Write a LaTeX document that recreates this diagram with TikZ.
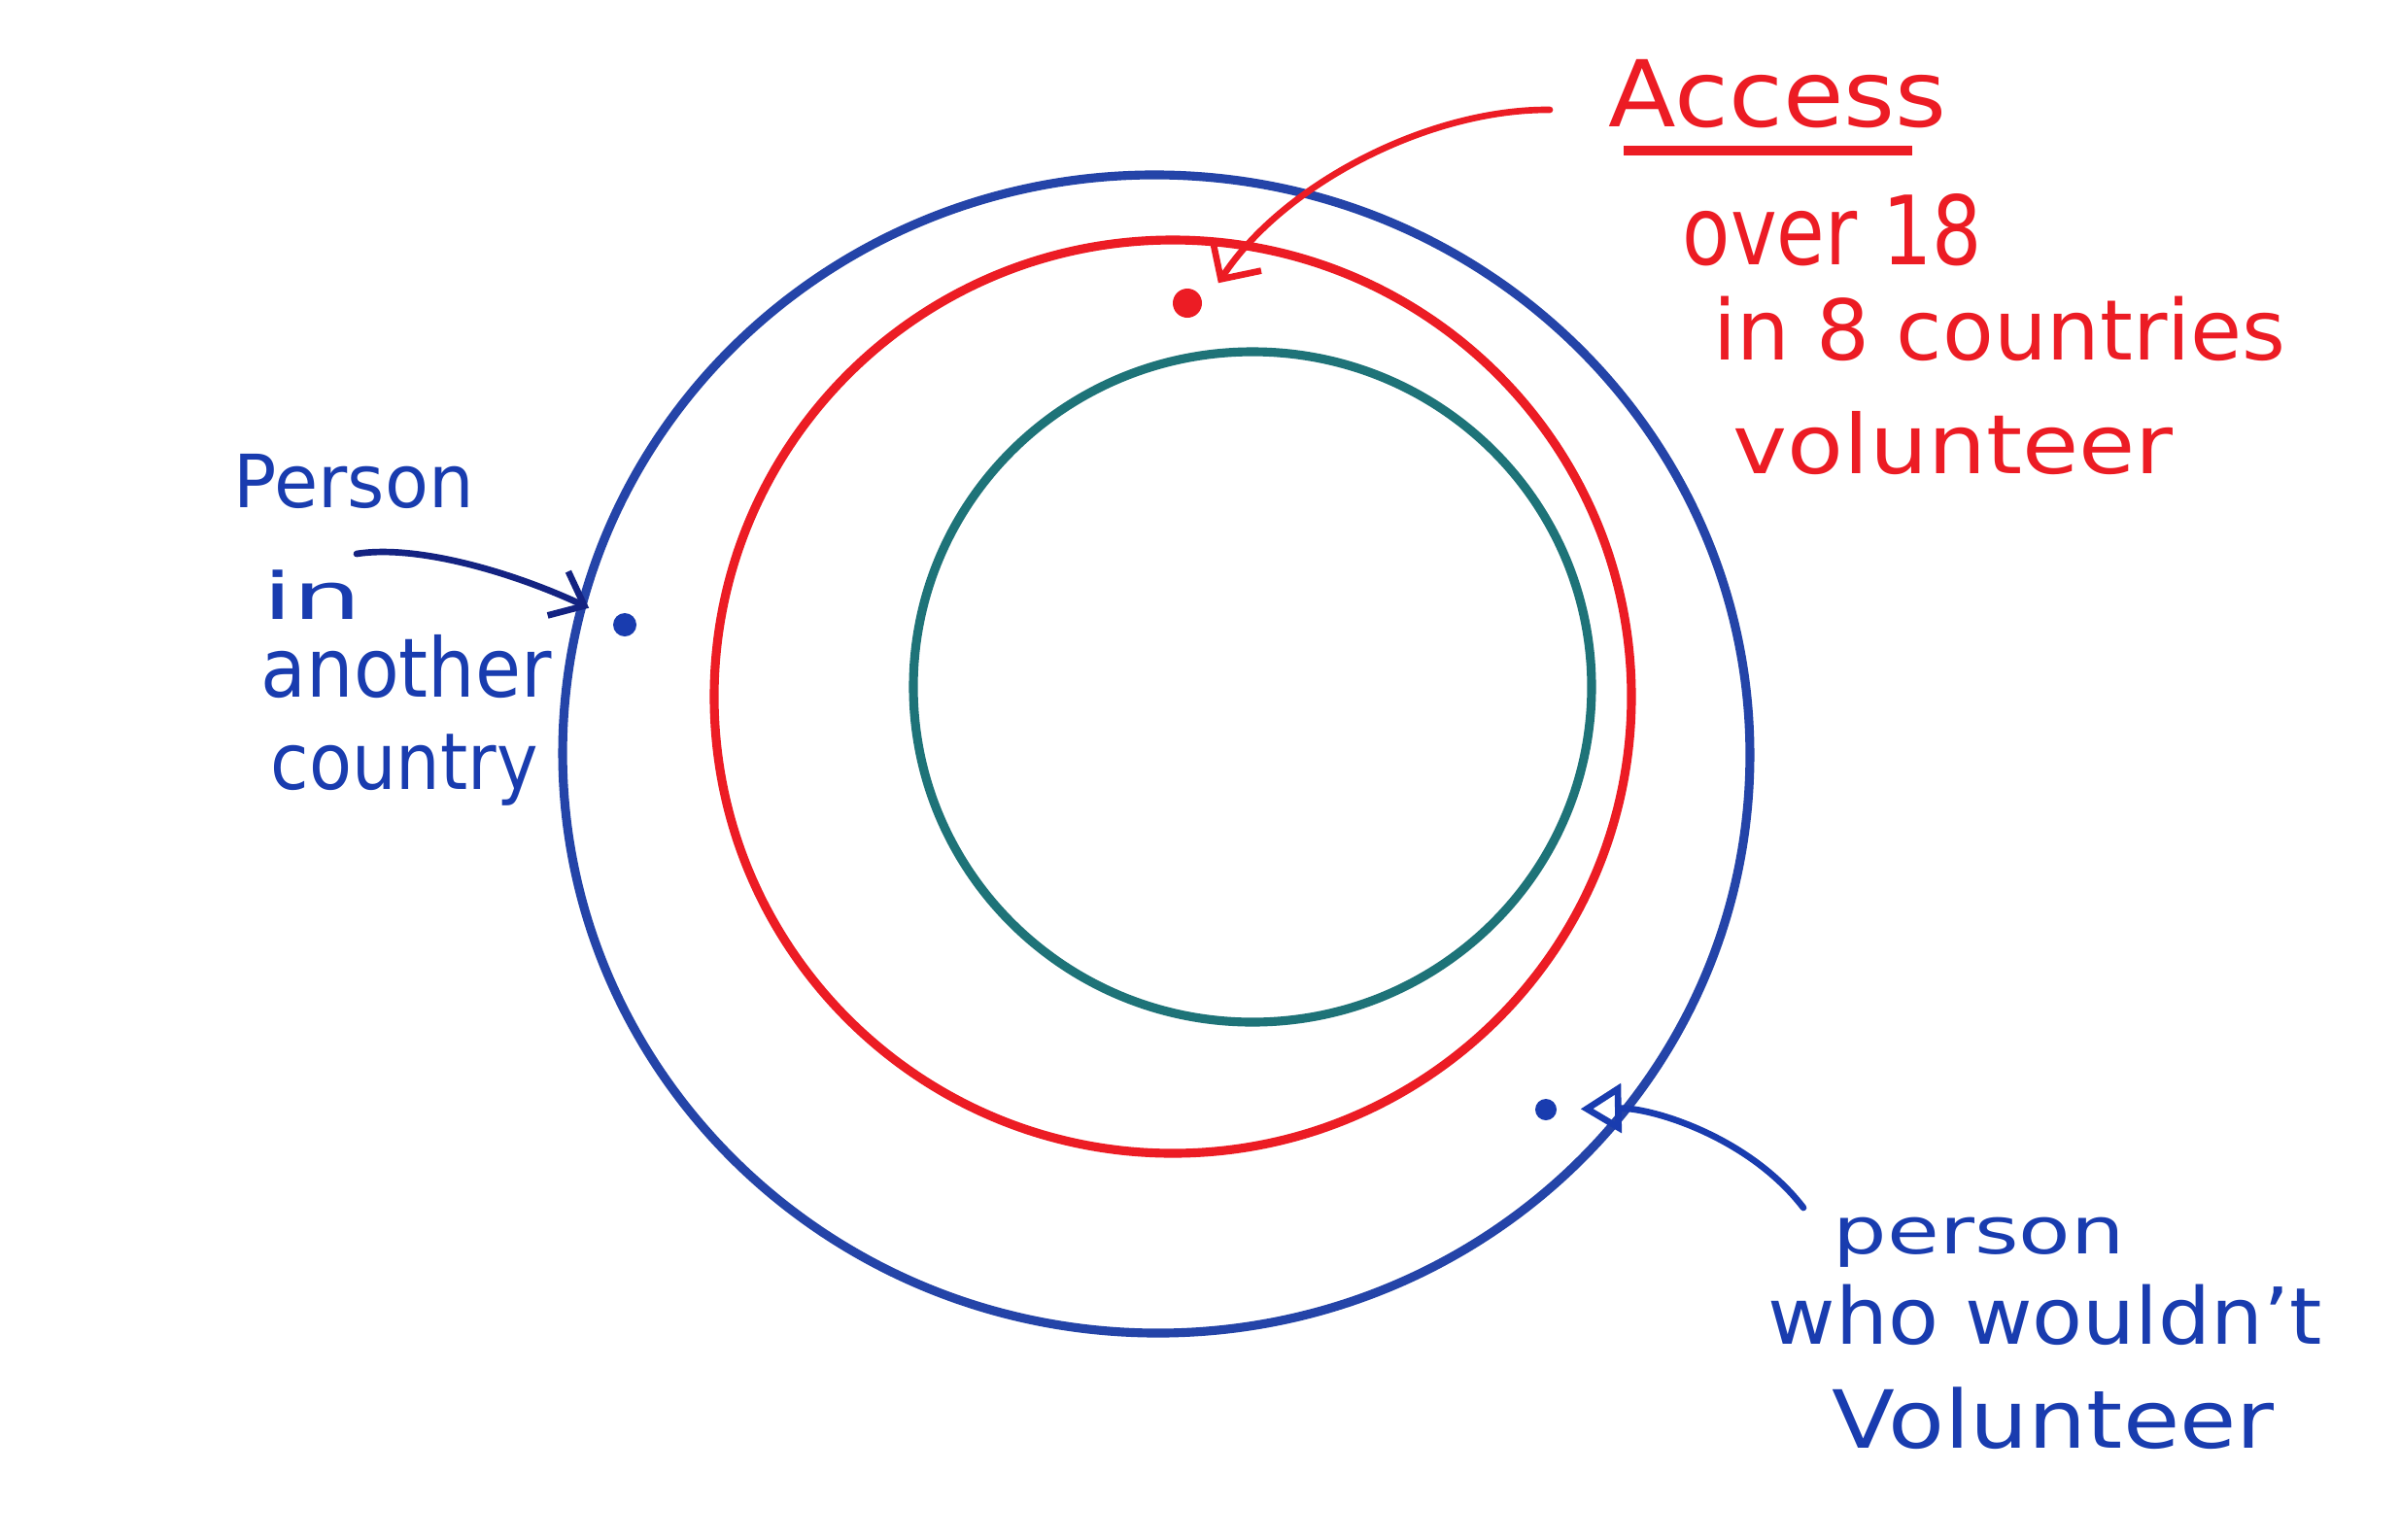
\documentclass[tikz,border=0pt]{standalone}
\usepackage{fontspec}
\usepackage{graphicx}
\newfontfamily\handfont{DejaVu Sans}
\usetikzlibrary{arrows.meta,calc}
\definecolor{crayred}{RGB}{236,28,36}
\definecolor{crayblue}{RGB}{36,68,168}
\definecolor{inkblue}{RGB}{25,60,175}
\definecolor{inknavy}{RGB}{20,35,130}
\definecolor{crayteal}{RGB}{30,115,120}
\newcommand{\hwtext}[3]{\resizebox{#1}{\height}{\fontsize{#2}{#2}\selectfont\handfont #3}}
\begin{document}
\begin{tikzpicture}[
  lbl/.style={inner sep=0pt, anchor=base west},
  ringline/.style={line width=2.6pt},
  dotnode/.style={circle, inner sep=0pt, minimum size=#1},
  pointer/.style={line width=1.9pt, line cap=round, line join=round}
]
\useasboundingbox (0,0) rectangle (24.70,-15.84);
\fill[white] (0,0) rectangle (24.70,-15.84);

% circles
\draw[ringline, crayblue, rotate around={-2.5:(11.90,-7.76)}] (11.90,-7.76) ellipse [x radius=6.11, y radius=5.96];
\draw[ringline, crayred] (12.07,-7.17) ellipse [x radius=4.72, y radius=4.70];
\draw[ringline, crayteal] (12.89,-7.07) ellipse [x radius=3.49, y radius=3.45];

% dots
\node[dotnode=0.30cm, fill=crayred] (rdot) at (12.22,-3.12) {};
\node[dotnode=0.24cm, fill=inkblue] (ldot) at (6.43,-6.43) {};
\node[dotnode=0.22cm, fill=inkblue] (wdot) at (15.91,-11.42) {};

% red labels
\node[lbl, text=crayred] (access) at (16.55,-1.30) {\hwtext{3.48cm}{27pt}{Access}};
\node[lbl, text=crayred] (over) at (17.31,-2.72) {\hwtext{3.08cm}{28pt}{over 18}};
\node[lbl, text=crayred] (ineight) at (17.63,-3.70) {\hwtext{5.89cm}{24.5pt}{in 8 countries}};
\node[lbl, text=crayred] (volr) at (17.83,-4.87) {\hwtext{4.53cm}{24pt}{volunteer}};
\draw[crayred, line width=3pt] ($(access.base west)+(0.16,-0.25)$) -- ($(access.base east)+(-0.36,-0.25)$);

% left labels
\node[lbl, text=inkblue] (personl) at (2.40,-5.22) {\hwtext{2.47cm}{21.5pt}{Person}};
\node[lbl, text=inkblue] (inl) at (2.70,-6.37) {\hwtext{1.02cm}{19pt}{in}};
\node[lbl, text=inkblue] (anotherl) at (2.68,-7.17) {\hwtext{2.99cm}{24pt}{another}};
\node[lbl, text=inkblue] (countryl) at (2.78,-8.12) {\hwtext{2.75cm}{23pt}{country}};

% right labels
\node[lbl, text=inkblue] (personr) at (18.86,-12.90) {\hwtext{3.00cm}{19pt}{person}};
\node[lbl, text=inkblue] (whor) at (18.19,-13.83) {\hwtext{5.70cm}{23pt}{who wouldn’t}};
\node[lbl, text=inkblue] (volunteerr) at (18.85,-14.90) {\hwtext{4.55cm}{23.5pt}{Volunteer}};

% connectors
\coordinate (rs) at (15.95,-1.13);
\coordinate (ls) at (3.67,-5.70);
\coordinate (ws) at (18.56,-12.43);
\draw[pointer, crayred, -{Straight Barb[length=0.3cm,width=0.6cm]}, shorten >=0.38cm]
  (rs) .. controls (14.70,-1.12) and (13.20,-1.90) .. (rdot.south east);
\draw[pointer, inknavy, -{Straight Barb[length=0.3cm,width=0.5cm]}, shorten >=0.28cm]
  (ls) .. controls (4.30,-5.60) and (5.30,-5.90) .. (ldot);
\draw[pointer, inkblue, -{Triangle[open,length=0.42cm,width=0.5cm]}, shorten >=0.24cm]
  (ws) .. controls (18.00,-11.70) and (17.00,-11.40) .. (wdot);
\end{tikzpicture}
\end{document}
